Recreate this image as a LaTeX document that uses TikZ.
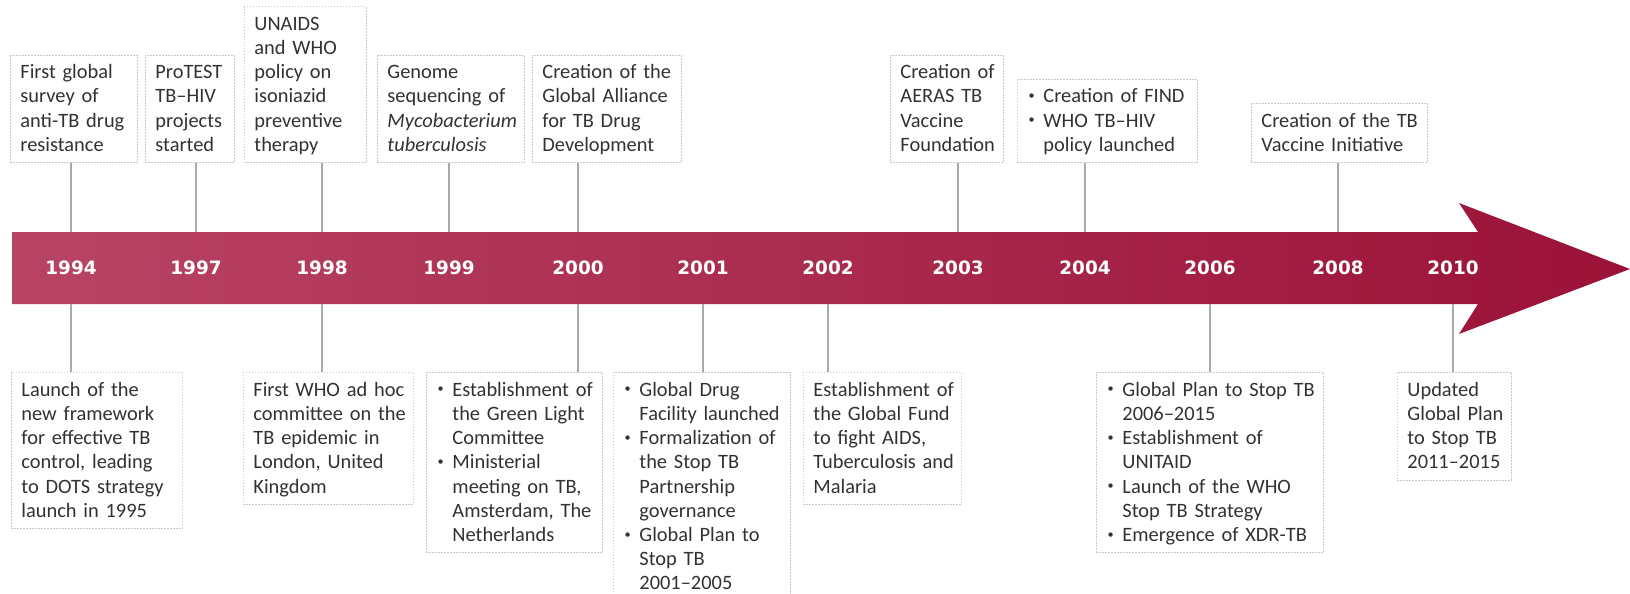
\documentclass[tikz,border=0pt]{standalone}
\usepackage{fontspec}
\setmainfont{Carlito}
\newfontfamily\yearfont{DejaVu Sans}
\definecolor{txt}{RGB}{50,50,50}
\definecolor{boxline}{RGB}{200,200,200}
\definecolor{conn}{RGB}{165,170,178}
\definecolor{barL}{RGB}{184,68,100}
\definecolor{barM}{RGB}{163,30,68}
\definecolor{barR}{RGB}{155,18,55}
\newcommand\topstrut{\rule{0pt}{11.9pt}}
\newcommand\botstrut{\rule[-5.6pt]{0pt}{5.6pt}}
\newcommand\bul{\makebox[8pt][l]{\hspace{0.6pt}\raisebox{0.35ex}{\scalebox{0.6}{\textbullet}}}}
\newcommand\ind{\hspace*{8pt}}
\newcommand\tx[1]{\begin{tabular}[t]{@{}l@{}}#1\botstrut\end{tabular}}
\begin{document}
\begin{tikzpicture}[x=0.5pt,y=-0.5pt,
 evbox/.style={draw=boxline, dash pattern=on 0.8pt off 0.7pt, line width=0.45pt, fill=white,
   inner xsep=5pt, inner ysep=0pt, text=txt, align=left,
   font=\fontsize{10.2}{12.1}\selectfont,
   execute at begin node=\topstrut},
 upbox/.style={evbox, anchor=south west},
 downbox/.style={evbox, anchor=north west},
 yr/.style={text=white, font=\yearfont\bfseries\fontsize{9.2}{10}\selectfont, inner sep=0pt},
 link/.style={draw=conn, line width=0.7pt}]
\fill[white] (0,0) rectangle (1630,594);
\useasboundingbox (0,0) rectangle (1630,594);
% timeline arrow
\shade[left color=barL, middle color=barM, right color=barR]
  (12,232) -- (1478,232) -- (1459,203) -- (1630,269) -- (1459,334) -- (1478,304) -- (12,304) -- cycle;
\coordinate (bt) at (0,232);
\coordinate (bb) at (0,304);
% years
\node[yr] (y94) at (71,268) {1994};
\node[yr] (y97) at (196,268) {1997};
\node[yr] (y98) at (322,268) {1998};
\node[yr] (y99) at (449,268) {1999};
\node[yr] (y00) at (578,268) {2000};
\node[yr] (y01) at (703,268) {2001};
\node[yr] (y02) at (828,268) {2002};
\node[yr] (y03) at (958,268) {2003};
\node[yr] (y04) at (1085,268) {2004};
\node[yr] (y06) at (1210,268) {2006};
\node[yr] (y08) at (1338,268) {2008};
\node[yr] (y10) at (1453,268) {2010};
% upper boxes
\node[upbox, text width=53.5pt] (a94) at (10,163) {\tx{First global\\survey of\\anti-TB drug\\resistance}};
\node[upbox, text width=34.5pt] (a97) at (145,163) {\tx{ProTEST\\TB--HIV\\projects\\started}};
\node[upbox, text width=51pt] (a98) at (244,163) {\tx{UNAIDS\\and WHO\\policy on\\isoniazid\\preventive\\therapy}};
\node[upbox, text width=63.5pt] (a99) at (377,163) {\tx{Genome\\sequencing of\\\textit{Mycobacterium}\\\textit{tuberculosis}}};
\node[upbox, text width=64.5pt] (a00) at (532,163) {\tx{Creation of the\\Global Alliance\\for TB Drug\\Development}};
\node[upbox, text width=46.5pt] (a03) at (890,163) {\tx{Creation of\\AERAS TB\\Vaccine\\Foundation}};
\node[upbox, text width=80pt] (a04) at (1017,163) {\tx{\bul Creation of FIND\\\bul WHO TB--HIV\\\ind policy launched}};
\node[upbox, text width=78pt] (a08) at (1251,163) {\tx{Creation of the TB\\Vaccine Initiative}};
% lower boxes
\node[downbox, text width=75.5pt] (b94) at (11,372) {\tx{Launch of the\\new framework\\for effective TB\\control, leading\\to DOTS strategy\\launch in 1995}};
\node[downbox, text width=75pt] (b98) at (243,372) {\tx{First WHO ad hoc\\committee on the\\TB epidemic in\\London, United\\Kingdom}};
\node[downbox, text width=78pt] (b00) at (426,372) {\tx{\bul Establishment of\\\ind the Green Light\\\ind Committee\\\bul Ministerial\\\ind meeting on TB,\\\ind Amsterdam, The\\\ind Netherlands}};
\node[downbox, text width=78.5pt] (b01) at (613,372) {\tx{\bul Global Drug\\\ind Facility launched\\\bul Formalization of\\\ind the Stop TB\\\ind Partnership\\\ind governance\\\bul Global Plan to\\\ind Stop TB\\\ind 2001--2005}};
\node[downbox, text width=69pt] (b02) at (803,372) {\tx{Establishment of\\the Global Fund\\to fight AIDS,\\Tuberculosis and\\Malaria}};
\node[downbox, text width=103.5pt] (b06) at (1096,372) {\tx{\bul Global Plan to Stop TB\\\ind 2006--2015\\\bul Establishment of\\\ind UNITAID\\\bul Launch of the WHO\\\ind Stop TB Strategy\\\bul Emergence of XDR-TB}};
\node[downbox, text width=47pt] (b10) at (1397,372) {\tx{Updated\\Global Plan\\to Stop TB\\2011--2015}};
% connectors, upper
\draw[link] (y94 |- a94.south) -- (y94 |- bt);
\draw[link] (y97 |- a97.south) -- (y97 |- bt);
\draw[link] (y98 |- a98.south) -- (y98 |- bt);
\draw[link] (y99 |- a99.south) -- (y99 |- bt);
\draw[link] (y00 |- a00.south) -- (y00 |- bt);
\draw[link] (y03 |- a03.south) -- (y03 |- bt);
\draw[link] (y04 |- a04.south) -- (y04 |- bt);
\draw[link] (y08 |- a08.south) -- (y08 |- bt);
% connectors, lower
\draw[link] (y94 |- bb) -- (y94 |- b94.north);
\draw[link] (y98 |- bb) -- (y98 |- b98.north);
\draw[link] (y00 |- bb) -- (y00 |- b00.north);
\draw[link] (y01 |- bb) -- (y01 |- b01.north);
\draw[link] (y02 |- bb) -- (y02 |- b02.north);
\draw[link] (y06 |- bb) -- (y06 |- b06.north);
\draw[link] (y10 |- bb) -- (y10 |- b10.north);
\end{tikzpicture}
\end{document}
